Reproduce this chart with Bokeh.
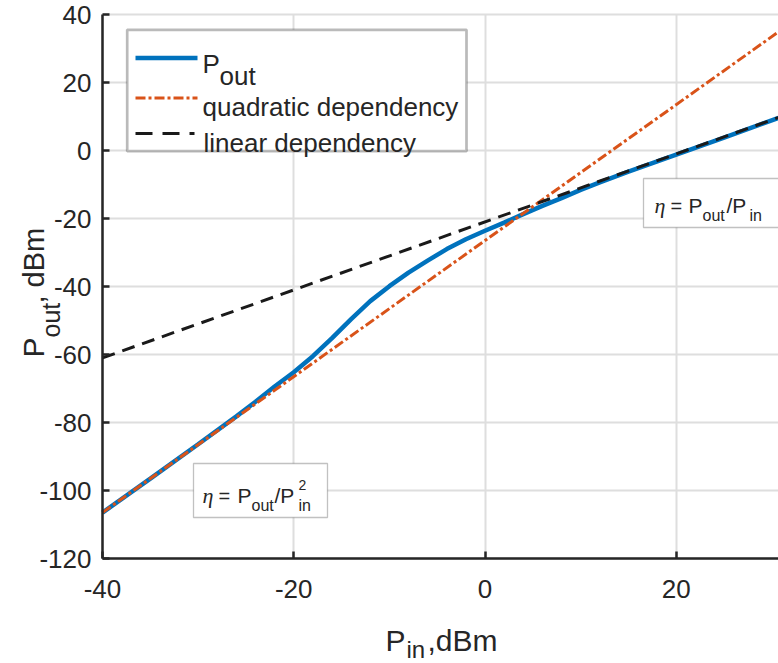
import math
from bokeh.plotting import figure
from bokeh.models import FixedTicker, Label, BoxAnnotation, Grid
from bokeh.embed import file_html
from bokeh.resources import INLINE

# ---------------- data ----------------
p_in = [-40, -35, -30, -26, -24, -22, -20, -18, -16, -14, -12, -10, -8, -6, -4,
        -2, 0, 2, 4, 6, 8, 10, 12, 15, 20, 25, 30.7]
p_out = [-106.5, -96.5, -86.4, -78.2, -73.9, -69.4, -65.2, -60.5, -55.2, -49.6,
         -44.3, -39.9, -35.9, -32.4, -29.0, -26.1, -23.6, -21.2, -18.7, -16.3,
         -14.0, -11.6, -9.4, -6.2, -1.2, 3.8, 9.6]
quad_x = [-40, 30.7]
quad_y = [-106.5, 34.9]
lin_x = [-40, 30.7]
lin_y = [-61.0, 9.7]
x_ticks = [-40, -20, 0, 20]
y_ticks = [-120, -100, -80, -60, -40, -20, 0, 20, 40]
legend_labels = ["quadratic dependency", " linear dependency"]

# ---------------- geometry ----------------
W, H = 778, 663
KX = 9.5625          # px per x unit
KY = 3.4             # px per y unit
XMIN, YMIN, YMAX = -40.0, -120.0, 40.0
XL = XMIN - 102 / KX
XR = XMIN + (W - 102) / KX
YT = YMAX + 14 / KY
YB = YMIN - (H - 558) / KY


def sx(px):
    return XL + px / KX


def sy(py):
    return YT - py / KY


FONT = "Liberation Sans"
TXT = "#262626"

p = figure(width=W, height=H, x_range=(XL, XR), y_range=(YB, YT),
           output_backend="svg", toolbar_location=None,
           min_border_left=0, min_border_right=0,
           min_border_top=0, min_border_bottom=0)
p.outline_line_color = None
p.background_fill_color = "white"
p.border_fill_color = "white"

p.xaxis.fixed_location = YMIN
p.yaxis.fixed_location = XMIN
p.xaxis.bounds = (XMIN, XR)
p.yaxis.bounds = (YMIN, YMAX)

for ax, ticks in ((p.xaxis[0], x_ticks), (p.yaxis[0], y_ticks)):
    ax.ticker = FixedTicker(ticks=ticks)
    ax.major_label_overrides = {t: str(t) for t in ticks}
    ax.axis_line_color = TXT
    ax.axis_line_width = 2.5
    ax.major_tick_line_color = TXT
    ax.major_tick_line_width = 2.5
    ax.major_tick_in = 7
    ax.major_tick_out = 0
    ax.minor_tick_line_color = None
    ax.major_label_text_font = FONT
    ax.major_label_text_font_size = "26px"
    ax.major_label_text_color = TXT
    ax.axis_label = None
p.xaxis.major_label_standoff = 21
p.yaxis.major_label_standoff = 11

p.xgrid.ticker = FixedTicker(ticks=x_ticks)
p.ygrid.ticker = FixedTicker(ticks=y_ticks)
p.xgrid.bounds = (XMIN, XR)
p.ygrid.bounds = (YMIN, YMAX)
has_cross = "cross_bounds" in Grid.properties()
if has_cross:
    p.xgrid.cross_bounds = (YMIN, YMAX)
    p.ygrid.cross_bounds = (XMIN, XR)
for g in (p.xgrid[0], p.ygrid[0]):
    g.grid_line_color = "#dedede"
    g.grid_line_width = 2

if not has_cross:
    for l, r, t, b in ((0, 100, 0, H), (0, W, 559.5, H), (0, W, 0, 13)):
        m = BoxAnnotation(left=sx(l), right=sx(r), top=sy(t), bottom=sy(b),
                          fill_color="white", fill_alpha=1.0, line_color=None,
                          level="underlay")
        p.add_layout(m)

# ---------------- data lines ----------------
p.line(p_in, p_out, line_color="#0072BD", line_width=4.5)
p.line(quad_x, quad_y, line_color="#D95319", line_width=3, line_dash="10 3 3 3")
p.line(lin_x, lin_y, line_color="#1a1a1a", line_width=3, line_dash="13 8")

# ---------------- legend ----------------
p.add_layout(BoxAnnotation(left=sx(126.7), right=sx(466), top=sy(29.3), bottom=sy(150.7),
                           fill_color="white", fill_alpha=1.0,
                           line_color="#1a1a1a", line_width=2.7))
r1 = p.line([sx(135), sx(197)], [sy(57.5), sy(57.5)], line_color="#0072BD", line_width=4.5)
r2 = p.line([sx(135), sx(197)], [sy(97.5), sy(97.5)], line_color="#D95319", line_width=3,
            line_dash="10 3 3 3")
r3 = p.line([sx(135), sx(194)], [sy(133), sy(133)], line_color="#1a1a1a", line_width=3,
            line_dash="17 10")
for r in (r1, r2, r3):
    r.level = "overlay"


def lab(px, py, text, size, font=FONT, style="normal", angle=0.0, color=TXT):
    p.add_layout(Label(x=sx(px), y=sy(py), text=text, text_font=font,
                       text_font_size=f"{size}px", text_font_style=style,
                       text_color=color, text_align="left",
                       text_baseline="alphabetic", angle=angle))


lab(202, 63, "P", 26)
lab(219, 75, "out", 26)
lab(202, 106, legend_labels[0], 26)
lab(203, 142, legend_labels[1], 26)

# ---------------- text boxes ----------------
p.add_layout(BoxAnnotation(left=sx(643), right=sx(800), top=sy(178), bottom=sy(227),
                           fill_color="white", fill_alpha=1.0,
                           line_color="#333333", line_width=1.3))
lab(654, 205, "\u03b7", 22, font="Liberation Serif", style="italic")
lab(670, 205, "=", 20)
lab(688, 205, "P", 21)
lab(702, 215, "out", 16)
lab(726, 205, "/P", 21)
lab(749, 215, "in", 16)

p.add_layout(BoxAnnotation(left=sx(193), right=sx(327), top=sy(463), bottom=sy(517),
                           fill_color="white", fill_alpha=1.0,
                           line_color="#333333", line_width=1.3))
lab(202, 495, "\u03b7", 22, font="Liberation Serif", style="italic")
lab(218, 495, "=", 20)
lab(237, 495, "P", 21)
lab(251, 505, "out", 16)
lab(274, 495, "/P", 21)
lab(298, 484, "2", 14)
lab(298, 505, "in", 16)

# ---------------- axis labels ----------------
lab(385, 640, "P", 30)
lab(406, 649, "in", 24)
lab(427, 640, ",dBm", 30)

rot = math.pi / 2
lab(33, 357, "P", 30, angle=rot)
lab(50, 337, "out", 25, angle=rot)
lab(33, 303, ", dBm", 29, angle=rot)

open("out.html", "w").write(file_html(p, INLINE))
